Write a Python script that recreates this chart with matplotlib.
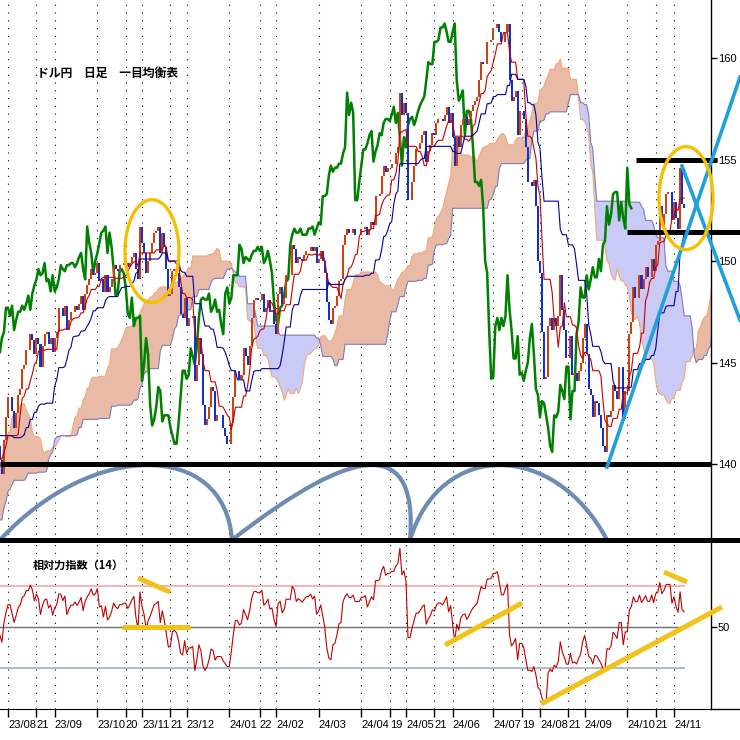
import numpy as np
import pandas as pd
import matplotlib
matplotlib.use('Agg')
import matplotlib.pyplot as plt
from matplotlib.patches import Ellipse, PathPatch
from matplotlib.path import Path

plt.rcParams['font.family'] = ['Noto Sans CJK JP', 'DejaVu Sans']

# USD/JPY daily closes, one value per business day (2023-04-03 .. 2024-11-08)
c_2023_04 = [132.5, 131.7, 131.3, 131.8, 132.2, 133.6, 133.7, 133.1, 132.6, 133.8,
             134.5, 134.1, 134.7, 134.2, 134.1, 134.3, 133.7, 133.6, 133.9, 136.3]
c_2023_05 = [137.5, 136.6, 134.7, 134.3, 134.8, 135.1, 135.2, 134.4, 134.5, 135.7, 136.1, 136.4,
             137.6, 138.6, 137.9, 138.6, 138.5, 139.5, 140.1, 140.6, 140.4, 139.8, 139.3]
c_2023_06 = [138.8, 139.9, 139.6, 139.6, 140.1, 139.0, 139.4, 139.6, 140.1, 140.0, 140.3,
             141.8, 141.9, 141.5, 141.9, 143.1, 143.7, 143.5, 143.9, 144.4, 144.8, 144.3]
c_2023_07 = [144.6, 144.5, 144.6, 144.1, 142.1, 141.3, 140.4, 138.5, 138.0, 138.8, 138.7,
             139.3, 139.7, 140.1, 141.8, 141.5, 140.9, 140.2, 139.5, 141.2, 142.3]
c_2023_08 = [143.3, 143.3, 142.6, 141.8, 142.5, 143.4, 143.7, 144.7, 144.9, 145.6, 145.6, 146.4,
             146.1, 145.4, 146.2, 145.9, 144.8, 145.8, 146.4, 146.5, 145.9, 146.2, 145.5]
c_2023_09 = [146.2, 146.5, 147.7, 147.7, 147.3, 147.8, 146.6, 147.1, 147.5, 147.5, 147.8,
             147.6, 147.9, 148.3, 147.6, 148.4, 148.8, 149.1, 149.6, 149.3, 149.4]
c_2023_10 = [149.9, 149.0, 149.1, 148.5, 149.3, 148.5, 148.7, 149.1, 149.8, 149.6, 149.5,
             149.8, 149.8, 149.9, 149.9, 149.7, 149.9, 150.2, 150.4, 149.6, 149.1, 151.7]
c_2023_11 = [150.9, 150.4, 149.4, 150.0, 150.4, 150.9, 151.4, 151.5, 151.7, 150.4, 151.4,
             150.7, 149.6, 148.3, 148.4, 149.5, 149.6, 149.4, 148.7, 147.4, 147.2, 148.2]
c_2023_12 = [146.8, 147.2, 147.2, 147.3, 144.1, 144.9, 146.2, 145.4, 142.9, 141.9, 142.2,
             142.8, 143.8, 143.6, 142.1, 142.4, 142.4, 142.4, 141.8, 141.4, 141.0]
c_2024_01 = [141.0, 142.0, 143.3, 144.6, 144.6, 144.2, 144.4, 145.7, 145.3, 144.9, 145.8, 147.2,
             148.1, 148.2, 148.1, 148.1, 148.4, 147.5, 147.7, 148.1, 147.5, 147.6, 146.9]
c_2024_02 = [146.4, 148.4, 148.7, 147.9, 148.2, 149.3, 149.3, 149.3, 150.8, 150.6, 149.9,
             150.2, 150.1, 150.0, 150.3, 150.5, 150.5, 150.7, 150.5, 150.7, 149.9]
c_2024_03 = [150.1, 150.5, 150.0, 149.4, 148.0, 147.1, 146.9, 147.7, 147.8, 148.3, 149.0,
             149.1, 150.8, 151.3, 151.6, 151.4, 151.4, 151.6, 151.3, 151.3, 151.3]
c_2024_04 = [151.6, 151.6, 151.7, 151.3, 151.6, 151.9, 151.8, 153.2, 153.2, 153.3, 154.2,
             154.7, 154.4, 154.6, 154.6, 154.8, 154.8, 155.3, 155.6, 158.3, 157.2, 157.8]
c_2024_05 = [157.3, 153.0, 153.0, 153.9, 154.7, 155.5, 155.5, 155.8, 156.2, 156.4, 154.9, 155.4,
             155.7, 156.3, 156.2, 156.8, 157.0, 157.0, 156.9, 157.2, 157.6, 156.8, 157.3]
c_2024_06 = [156.1, 154.7, 156.1, 155.6, 156.7, 157.0, 157.1, 156.7, 157.0, 157.4,
             157.7, 157.9, 158.1, 158.9, 159.8, 159.7, 159.7, 160.8, 160.8, 160.9]
c_2024_07 = [161.5, 161.5, 161.7, 161.3, 160.8, 160.8, 161.3, 161.7, 158.9, 157.9, 158.1, 158.4,
             156.2, 157.4, 157.4, 157.0, 155.6, 153.9, 153.9, 153.7, 154.0, 152.7, 150.0]
c_2024_08 = [149.4, 146.5, 144.2, 144.3, 146.8, 147.2, 146.6, 147.2, 146.8, 147.3, 149.3,
             147.6, 146.6, 145.2, 145.2, 146.3, 144.4, 144.5, 144.1, 144.6, 145.0, 146.2]
c_2024_09 = [146.9, 145.4, 143.7, 143.4, 142.3, 143.1, 143.0, 142.4, 141.8, 140.9, 140.6,
             142.4, 142.3, 142.6, 143.9, 143.6, 143.2, 144.8, 144.8, 142.2, 143.6]
c_2024_10 = [143.6, 146.4, 147.0, 148.7, 148.2, 148.2, 149.3, 148.6, 149.1, 149.7, 149.2, 149.2,
             150.1, 149.5, 150.8, 151.0, 152.7, 151.8, 152.3, 153.3, 153.4, 153.4, 152.0]
c_2024_11 = [152.9, 152.1, 151.6, 154.6, 152.8, 152.6]

closes = np.array(c_2023_04 + c_2023_05 + c_2023_06 + c_2023_07 + c_2023_08 + c_2023_09
                  + c_2023_10 + c_2023_11 + c_2023_12 + c_2024_01 + c_2024_02 + c_2024_03
                  + c_2024_04 + c_2024_05 + c_2024_06 + c_2024_07 + c_2024_08 + c_2024_09
                  + c_2024_10 + c_2024_11)
dates = pd.bdate_range('2023-04-03', '2024-11-08')
assert len(dates) == len(closes), (len(dates), len(closes))

tick_dates = ['2023-08-01', '2023-08-21', '2023-09-01', '2023-10-02', '2023-10-20', '2023-11-01',
              '2023-11-21', '2023-12-01', '2024-01-01', '2024-01-22', '2024-02-01', '2024-03-01',
              '2024-04-01', '2024-04-19', '2024-05-01', '2024-05-21', '2024-06-03', '2024-07-01',
              '2024-07-19', '2024-08-01', '2024-08-21', '2024-09-02', '2024-10-01', '2024-10-21',
              '2024-11-01']
tick_labels = ['23/08', '21', '23/09', '23/10', '20', '23/11', '21', '23/12', '24/01', '22',
               '24/02', '24/03', '24/04', '19', '24/05', '21', '24/06', '24/07', '19', '24/08',
               '21', '24/09', '24/10', '21', '24/11']
price_ticks = [140, 145, 150, 155, 160]
rsi_levels = [70, 50, 30]
rsi_colors = ['#f4b4b4', '#707070', '#a9bccb']

# hand-drawn annotations, x in bars after 2023-08-01, y in yen / RSI points
level_lines = [(140.0, -4.0, 346.0), (155.0, 309.3, 349.2), (151.43, 304.8, 360.5)]
blue_lines = [((295.0, 139.85), (360.5, 159.06)), ((331.9, 154.68), (360.5, 147.09))]
circles = [(70.9, 150.49), (333.9, 153.10)]
circle_size = (26.6, 5.07)
cycle_arcs = [(-3.9, 41.4, 106.9, 110.3), (110.3, 173.4, 201.9, 198.0), (198.0, 212.8, 268.9, 295.0)]
arc_base, arc_ctrl = 136.26, 141.18
rsi_marks = [((64.0, 73.9), (79.8, 67.1)), ((56.1, 50.0), (89.6, 50.0)),
             ((215.2, 41.2), (253.1, 61.7)), ((262.5, 12.4), (351.6, 59.8)),
             ((323.1, 76.8), (334.4, 72.0))]

# indicators
s = pd.Series(closes)
opens = s.shift(1).fillna(s.iloc[0]).values
tenkan = (s.rolling(9).max() + s.rolling(9).min()) / 2
kijun = (s.rolling(26).max() + s.rolling(26).min()) / 2
span_a = ((tenkan + kijun) / 2).values
span_b = ((s.rolling(52).max() + s.rolling(52).min()) / 2).values
d = s.diff()
gain = d.clip(lower=0).ewm(alpha=1 / 14, adjust=False).mean()
loss = (-d).clip(lower=0).ewm(alpha=1 / 14, adjust=False).mean()
rsi = 100 * gain / (gain + loss)

idx = np.arange(len(closes))
i0 = dates.get_loc(pd.Timestamp('2023-08-01'))
px = 666 / 328.0
xlim = (i0 - 8 / px, i0 + 703 / px)

fig = plt.figure(figsize=(7.4, 7.4), dpi=100, facecolor='white')
ax = fig.add_axes([0, 1 - 542 / 740, 711 / 740, 542 / 740])
ax2 = fig.add_axes([0, 1 - 709 / 740, 711 / 740, 166 / 740])

# cloud
xc = idx + 26
ax.fill_between(xc, span_a, span_b, where=span_a >= span_b, interpolate=True,
                color='#e9bba7', lw=0, zorder=1)
ax.fill_between(xc, span_a, span_b, where=span_a < span_b, interpolate=True,
                color='#cacaf6', lw=0, zorder=1)
ax.plot(xc, span_a, color='#f0a878', lw=0.8, zorder=1.5)
ax.plot(xc, span_b, color='#7c7cb8', lw=0.8, zorder=1.5)

# chikou span
ax.plot(idx - 26, closes, color='#008000', lw=1.8, zorder=2.5)

# candles
up = closes >= opens
ax.bar(idx, closes - opens, bottom=opens, width=1.0,
       color=np.where(up, '#d04010', '#1430c8'), linewidth=0, zorder=3)
ax.plot(idx, tenkan, color='#c80000', lw=0.8, zorder=4)
ax.plot(idx, kijun, color='#0000a0', lw=0.8, zorder=4)

# annotations on the price panel
for y, xa, xb in level_lines:
    ax.plot([i0 + xa, i0 + xb], [y, y], color='black', lw=3.6, solid_capstyle='butt',
            clip_on=False, zorder=8)
ax.plot([0, 740 / 711], [0.004, 0.004], transform=ax.transAxes, color='black', lw=3.6,
        clip_on=False, zorder=8)
for (xa, ya), (xb, yb) in blue_lines:
    ax.plot([i0 + xa, i0 + xb], [ya, yb], color='#1ea0dc', lw=2.6, clip_on=False, zorder=9)
for cx, cy in circles:
    ax.add_patch(Ellipse((i0 + cx, cy), circle_size[0], circle_size[1], fill=False,
                         ec='#f5c000', lw=2.4, zorder=10, clip_on=False))
for arc in cycle_arcs:
    verts = [(i0 + arc[0], arc_base), (i0 + arc[1], arc_ctrl),
             (i0 + arc[2], arc_ctrl), (i0 + arc[3], arc_base)]
    path = Path(verts, [Path.MOVETO, Path.CURVE4, Path.CURVE4, Path.CURVE4])
    ax.add_patch(PathPatch(path, fill=False, ec='#6d8cb4', lw=3, zorder=7))

ax.text(37 / 711, 1 - 73 / 542, 'ドル円　日足　一目均衡表', transform=ax.transAxes,
        fontsize=8.5, fontweight='bold', va='center', ha='left', zorder=11)

# RSI panel
for lv, col in zip(rsi_levels, rsi_colors):
    ax2.plot([xlim[0], idx[-1]], [lv, lv], color=col, lw=1.4 if lv != 50 else 1.0, zorder=1)
ax2.plot(idx, rsi, color='#c00000', lw=0.8, zorder=3)
for (xa, ya), (xb, yb) in rsi_marks:
    ax2.plot([i0 + xa, i0 + xb], [ya, yb], color='#f2c21b', lw=3.6, solid_capstyle='butt',
             clip_on=False, zorder=5)
ax2.text(33 / 711, (709 - 565) / 166, '相対力指数（14）', transform=ax2.transAxes,
         fontsize=8, fontweight='bold', va='center', ha='left')
ax2.plot([1, 740 / 711], [0, 0], transform=ax2.transAxes, color='black', lw=1, clip_on=False)

tick_pos = [dates.get_loc(pd.Timestamp(t)) for t in tick_dates]
for a in (ax, ax2):
    a.set_xlim(xlim)
    a.set_xticks(tick_pos)
    a.grid(axis='x', color='black', linestyle=(0, (1, 6)), lw=0.8)
    a.set_axisbelow(True)
    a.yaxis.tick_right()
    for side in ('left', 'top'):
        a.spines[side].set_visible(False)
    a.spines['right'].set_linewidth(1)
    a.set_facecolor('white')
    a.tick_params(axis='y', direction='out', length=4, width=1, pad=1, labelsize=8)

ax.spines['bottom'].set_visible(False)
ax.tick_params(axis='x', length=0, labelbottom=False)
ax.set_ylim(136.16, 162.86)
ax.set_yticks(price_ticks)

ax2.set_ylim(10, 91)
ax2.set_yticks([50])
ax2.set_xticklabels(tick_labels)
ax2.tick_params(axis='x', direction='out', length=6, width=1, pad=2, labelsize=8)
for lbl in ax2.get_xticklabels() + ax2.get_yticklabels() + ax.get_yticklabels():
    lbl.set_fontfamily(['Liberation Sans', 'DejaVu Sans'])
for lbl in ax2.get_xticklabels():
    lbl.set_ha('left')

fig.savefig('out.png', dpi=100, facecolor='white')
